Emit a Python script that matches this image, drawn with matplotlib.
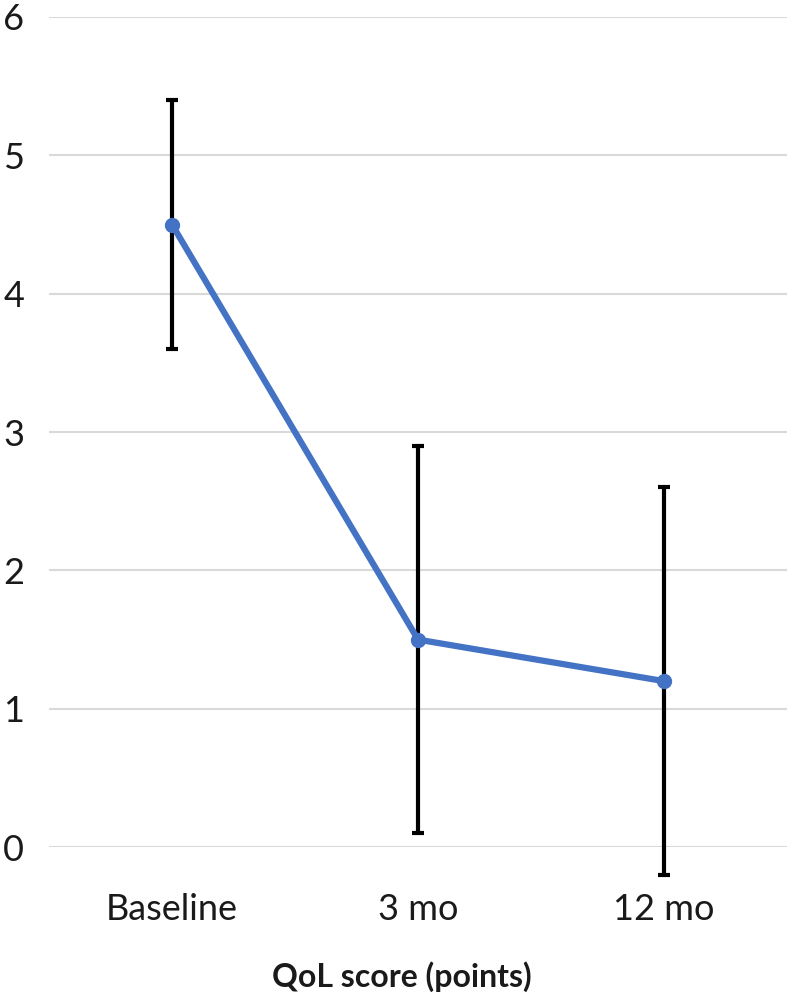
import matplotlib
matplotlib.use('Agg')
import matplotlib.pyplot as plt

# data
categories = ['Baseline', '3 mo', '12 mo']
mean_score = [4.5, 1.5, 1.2]
err_low = [0.9, 1.4, 1.4]
err_high = [0.9, 1.4, 1.4]
y_ticks = [0, 1, 2, 3, 4, 5, 6]

plt.rcParams['font.family'] = ['Lato', 'DejaVu Sans']

fig = plt.figure(figsize=(7.87, 9.99), dpi=100)
ax = fig.add_axes([0.0623, 0.152, 0.9377, 0.831])

x = list(range(len(categories)))

# error bars first, then the blue line on top
ax.errorbar(x, mean_score, yerr=[err_low, err_high], fmt='none',
            ecolor='black', elinewidth=3, capsize=4.5, capthick=3,
            clip_on=False, zorder=3)
ax.plot(x, mean_score, color='#4472C4', linewidth=4.5,
        marker='o', markersize=10, clip_on=False, zorder=4)

ax.set_xlim(-0.5, 2.5)
ax.set_ylim(0, 6)
ax.set_yticks(y_ticks)
ax.set_xticks(x)
ax.set_xticklabels(categories)
ax.grid(axis='y', color='#D9D9D9', linewidth=1.5)
ax.set_axisbelow(True)

for s in ax.spines.values():
    s.set_visible(False)

ax.tick_params(axis='y', length=0, pad=18, labelsize=26, labelcolor='#1a1a1a')
ax.tick_params(axis='x', length=0, pad=33, labelsize=26, labelcolor='#1a1a1a')
ax.set_xlabel('QoL score (points)', fontsize=23, fontweight='bold',
              color='#1a1a1a')
# excel centres the title on the chart area, a bit left of the plot centre
ax.xaxis.set_label_coords(0.478, -0.137)

fig.savefig('out.png', dpi=100)
